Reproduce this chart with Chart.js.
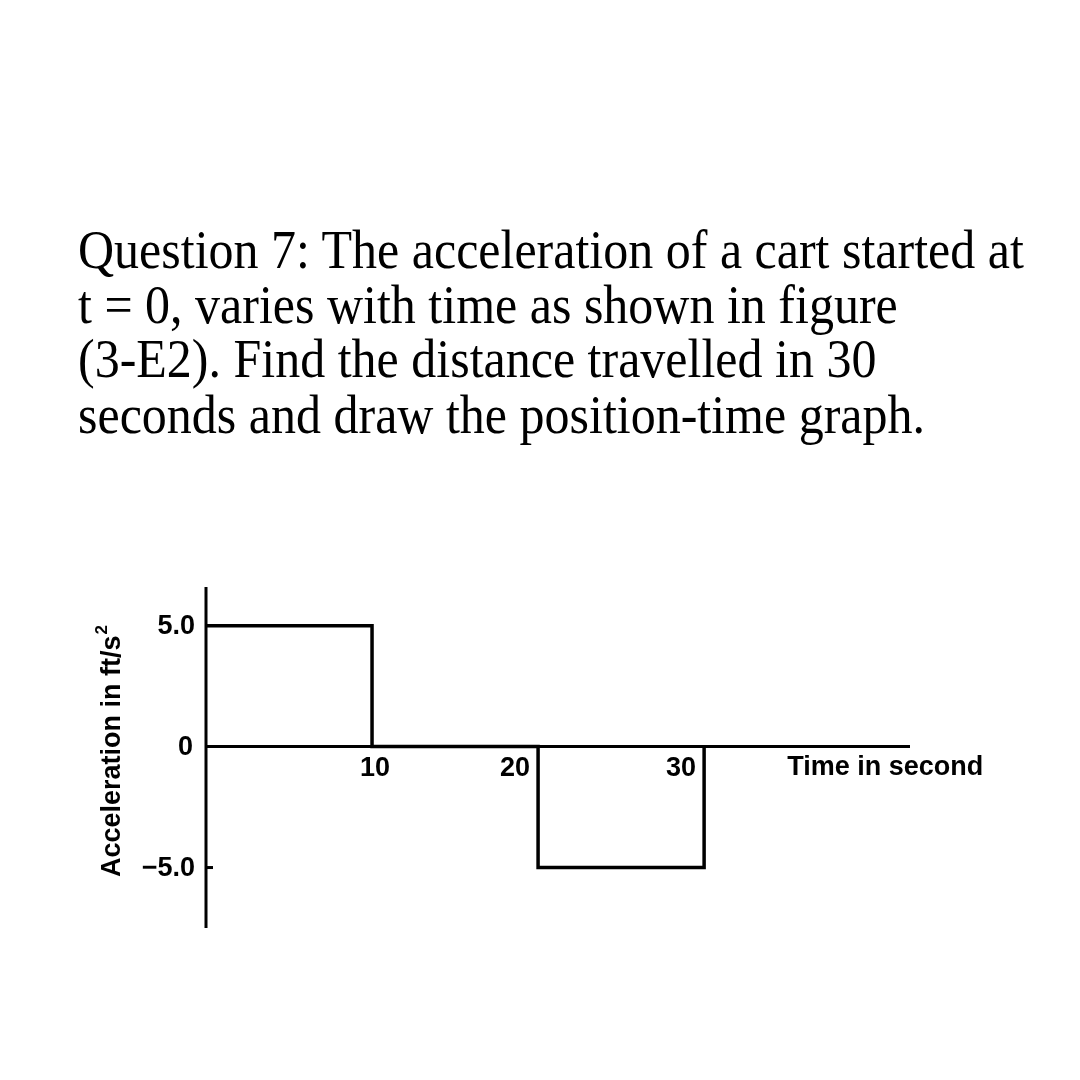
<!DOCTYPE html>
<html>
<head>
<meta charset="utf-8">
<script src="https://cdn.jsdelivr.net/npm/chart.js@4.4.1/dist/chart.umd.min.js"></script>
<style>
  html, body { margin: 0; padding: 0; background: #fff; }
  #wrap { position: relative; width: 1080px; height: 1080px; }
  #q { position: absolute; left: 78px; top: 223px; font-family: "Liberation Serif", "Times New Roman", serif;
       font-size: 50px; line-height: 50.5px; color: #000; white-space: nowrap;
       transform: scaleY(1.08); transform-origin: 0 0; }
  canvas { position: absolute; left: 0; top: 0; }
</style>
</head>
<body>
<div id="wrap">
  <canvas id="c" width="1080" height="1080"></canvas>
  <div id="q">Question 7: The acceleration of a cart started at<br>t = 0, varies with time as shown in figure<br>(3-E2). Find the distance travelled in 30<br>seconds and draw the position-time graph.</div>
</div>
<script>
// Data
const times = [0, 10, 20, 30];
const accel = [5, 0, -5, 0];
const xTicks = [10, 20, 30];
const xTickLabels = ["10", "20", "30"];
const yTicks = [5, 0, -5];
const yTickLabels = ["5.0", "0", "\u22125.0"];
const xTitle = "Time in second";
const yTitle = "Acceleration in ft/s";

const axesPlugin = {
  id: 'axesPlugin',
  afterDatasetsDraw(chart) {
    const ctx = chart.ctx;
    const xs = chart.scales.x, ys = chart.scales.y;
    const ca = chart.chartArea;
    const x0 = xs.getPixelForValue(0), y0 = ys.getPixelForValue(0);
    ctx.save();
    ctx.strokeStyle = '#000';
    ctx.lineCap = 'butt';
    ctx.lineWidth = 3;
    // y axis
    ctx.beginPath(); ctx.moveTo(x0, ca.top); ctx.lineTo(x0, ca.bottom); ctx.stroke();
    // x axis
    ctx.beginPath(); ctx.moveTo(x0, y0); ctx.lineTo(ca.right, y0); ctx.stroke();
    // tick at -5
    const ym5 = ys.getPixelForValue(-5);
    ctx.beginPath(); ctx.moveTo(x0, ym5); ctx.lineTo(x0 + 7, ym5); ctx.stroke();

    ctx.fillStyle = '#000';
    ctx.font = 'bold 27px "Liberation Sans", Arial, sans-serif';
    ctx.textBaseline = 'middle';
    // y tick labels
    ctx.textAlign = 'right';
    yTicks.forEach((v, i) => {
      const off = (v === 0) ? 13 : 11;
      ctx.fillText(yTickLabels[i], x0 - off, ys.getPixelForValue(v) + 1);
    });
    // x tick labels
    xTicks.forEach((v, i) => {
      const px = xs.getPixelForValue(v);
      if (i === 0) { ctx.textAlign = 'center'; ctx.fillText(xTickLabels[i], px + 3, y0 + 22); }
      else { ctx.textAlign = 'right'; ctx.fillText(xTickLabels[i], px - 8, y0 + 22); }
    });
    // x title
    ctx.textAlign = 'left';
    ctx.fillText(xTitle, xs.getPixelForValue(35), y0 + 21);
    // y title rotated
    ctx.save();
    ctx.translate(113, 877);
    ctx.rotate(-Math.PI / 2);
    ctx.textAlign = 'left';
    ctx.fillText(yTitle, 0, 0);
    const w = ctx.measureText(yTitle).width;
    ctx.font = 'bold 17px "Liberation Sans", Arial, sans-serif';
    ctx.fillText('2', w + 1, -11);
    ctx.restore();
    ctx.restore();
  }
};

new Chart(document.getElementById('c'), {
  type: 'line',
  data: {
    datasets: [{
      data: times.map((t, i) => ({ x: t, y: accel[i] })),
      stepped: 'before',
      borderColor: '#000',
      borderWidth: 3.5,
      pointRadius: 0,
      fill: false
    }]
  },
  options: {
    responsive: false,
    animation: false,
    devicePixelRatio: 1,
    layout: { padding: { left: 206, right: 170, top: 587, bottom: 152 } },
    plugins: { legend: { display: false }, tooltip: { enabled: false } },
    scales: {
      x: { type: 'linear', min: 0, max: 42.4, display: false },
      y: { type: 'linear', min: -7.5, max: 6.6, display: false }
    }
  },
  plugins: [axesPlugin]
});
</script>
</body>
</html>
